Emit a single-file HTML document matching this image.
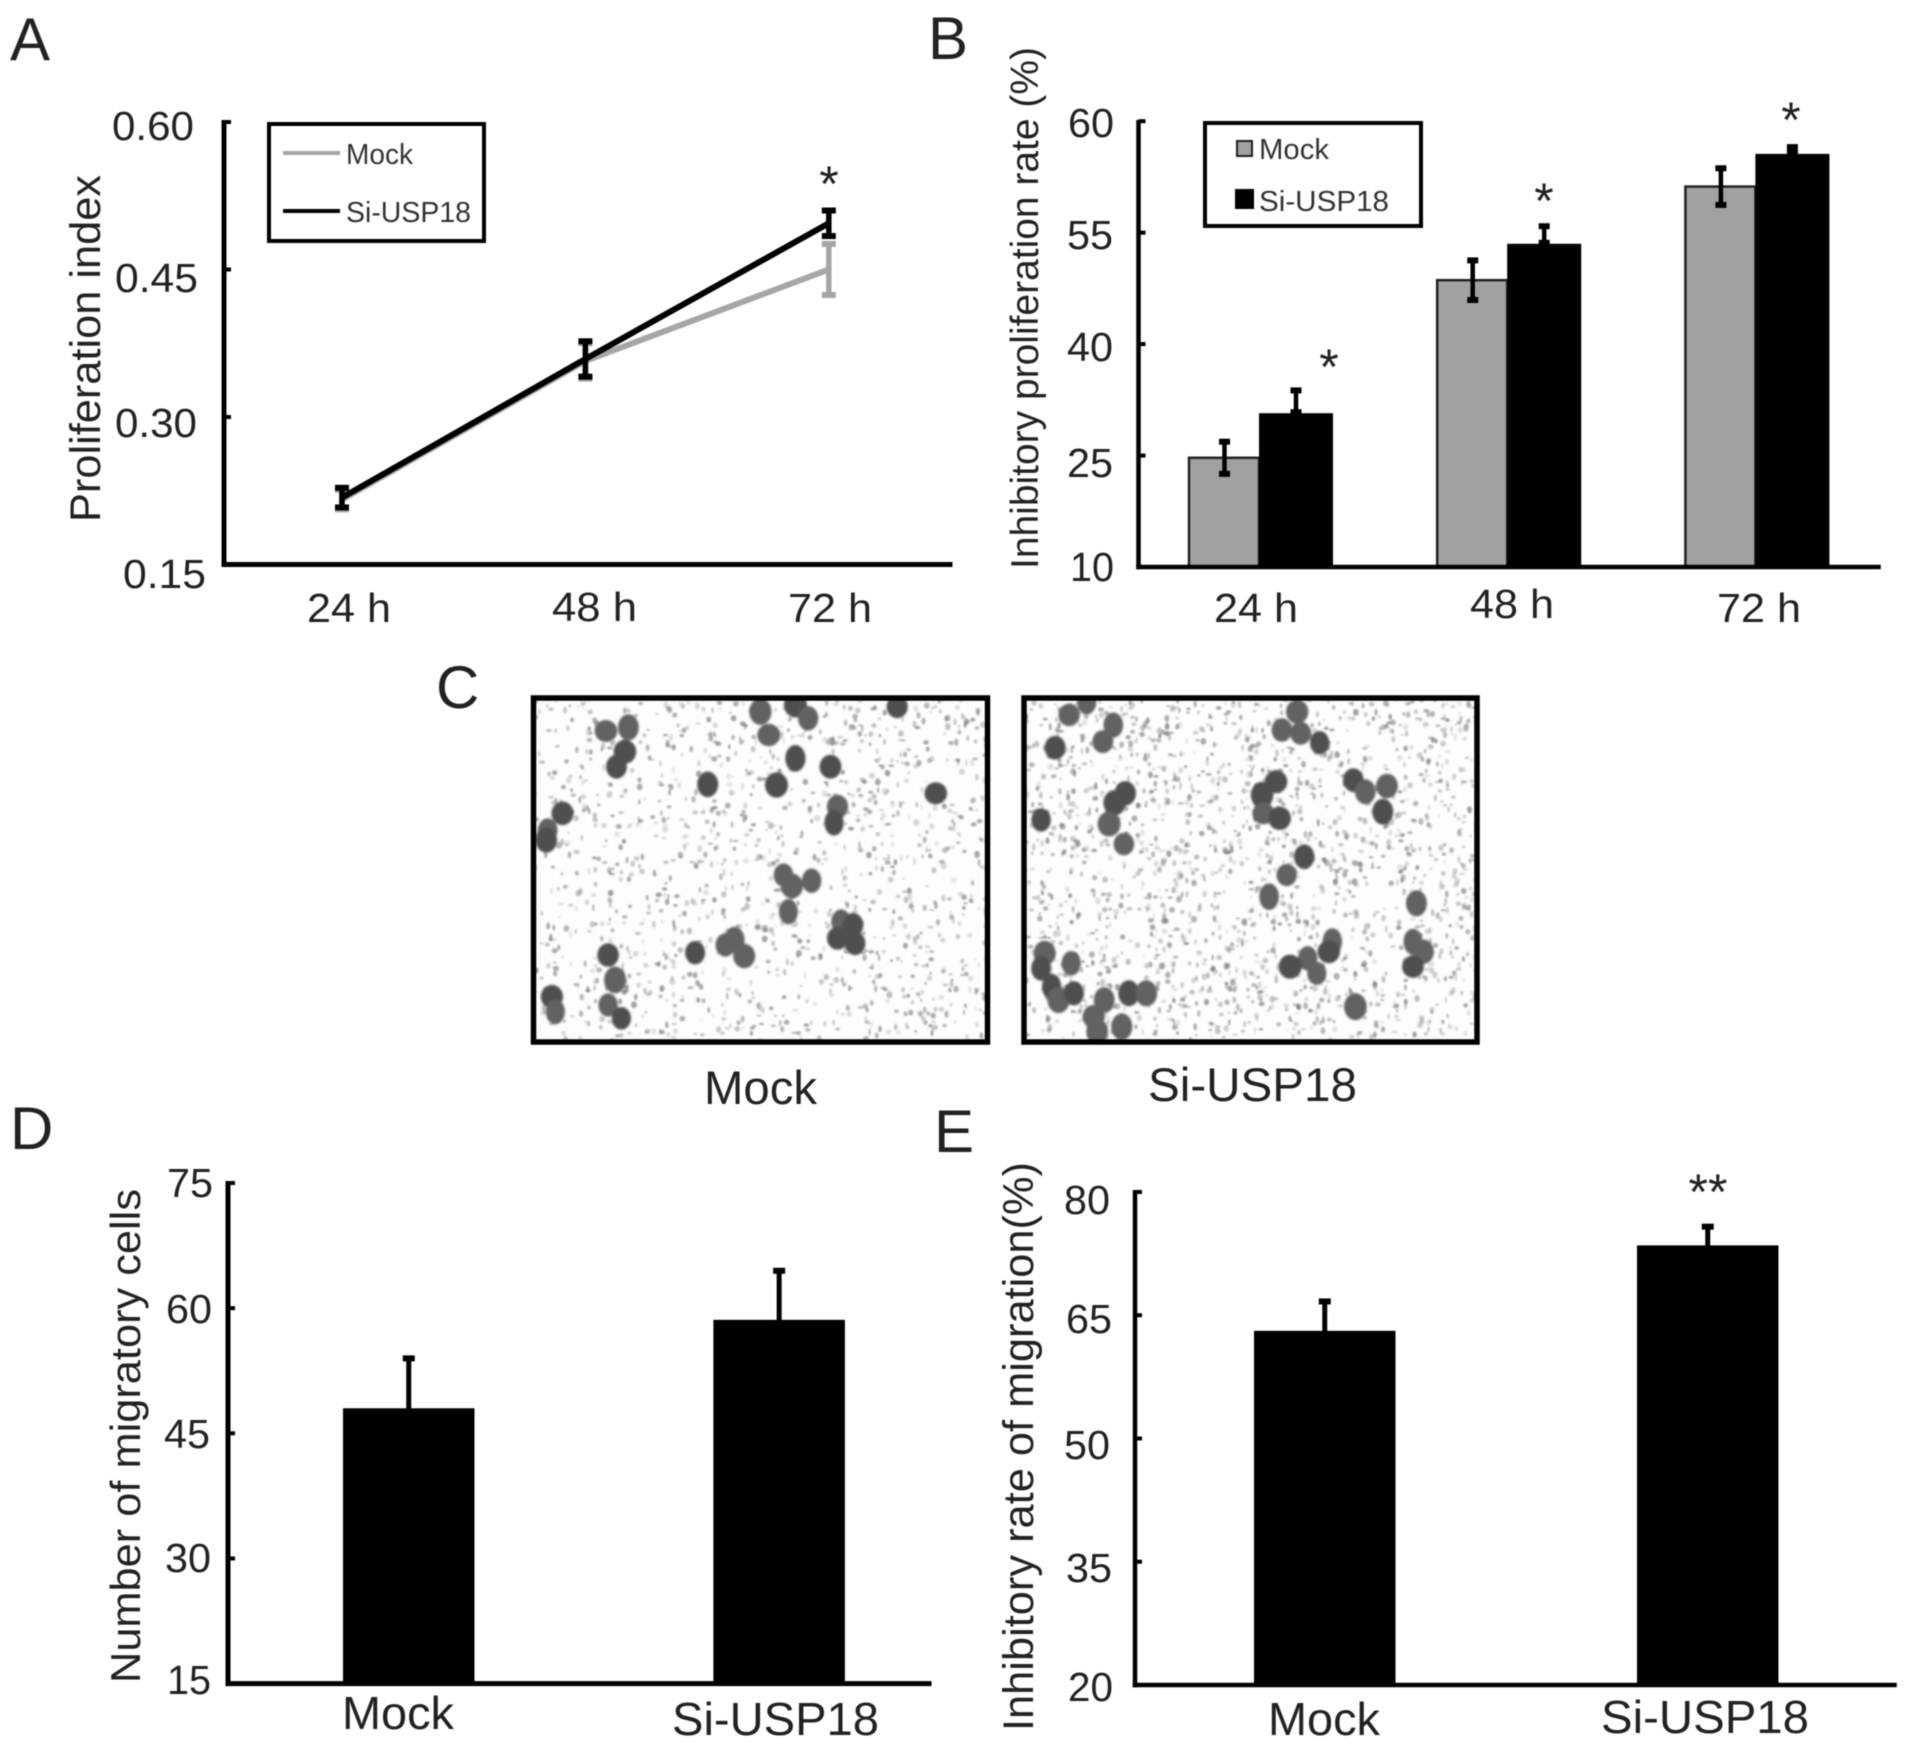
<!DOCTYPE html>
<html lang="en">
<head>
<meta charset="utf-8">
<title>USP18 proliferation and migration figure</title>
<style>
  html, body { margin: 0; padding: 0; background: #fff; }
  #stage { position: relative; width: 1913px; height: 1749px; overflow: hidden; background: #fff; }
  #figure { position: absolute; left: 0; top: 0; filter: blur(0.6px); }
  text { font-family: "Liberation Sans", Arial, sans-serif; fill: #222; }
  .tick { font-size: 41px; }
  .legend-text { font-size: 29px; fill: #333; }
  .panel-letter { font-size: 60px; }
  .star { font-size: 50px; text-anchor: middle; }
</style>
</head>
<body>
<div id="stage">
<svg id="figure" xmlns="http://www.w3.org/2000/svg" width="1913" height="1749" viewBox="0 0 1913 1749">
  <defs>
    <clipPath id="clip-mock"><rect x="531" y="698" width="456" height="342"/></clipPath>
    <clipPath id="clip-si"><rect x="1022" y="698" width="454" height="342"/></clipPath>
    <filter id="soft" x="-5%" y="-5%" width="110%" height="110%"><feGaussianBlur stdDeviation="1"/></filter>
    <filter id="softer" x="-2%" y="-2%" width="104%" height="104%"><feGaussianBlur stdDeviation="0.7"/></filter>
  </defs>

  <!-- Panel A -->
  <g id="panel-a">
    <text class="panel-letter" x="10" y="60">A</text>
    <text transform="translate(100,522) rotate(-90)" font-size="43" textLength="347" lengthAdjust="spacingAndGlyphs">Proliferation index</text>
    <text class="tick" x="112" y="140" textLength="82" lengthAdjust="spacingAndGlyphs">0.60</text>
    <text class="tick" x="115" y="292" textLength="83" lengthAdjust="spacingAndGlyphs">0.45</text>
    <text class="tick" x="115" y="437" textLength="82" lengthAdjust="spacingAndGlyphs">0.30</text>
    <text class="tick" x="123" y="588" textLength="83" lengthAdjust="spacingAndGlyphs">0.15</text>
    <text class="tick" x="307" y="622" textLength="84" lengthAdjust="spacingAndGlyphs">24 h</text>
    <text class="tick" x="552" y="621" textLength="85" lengthAdjust="spacingAndGlyphs">48 h</text>
    <text class="tick" x="788" y="622" textLength="84" lengthAdjust="spacingAndGlyphs">72 h</text>
    <g id="chart-a"></g>
    <text class="star" x="829" y="201">*</text>
    <g>
      <rect x="269" y="124" width="215" height="117" fill="#fff" stroke="#000" stroke-width="4"/>
      <line x1="283" x2="340" y1="153" y2="153" stroke="#a6a6a6" stroke-width="4"/>
      <text class="legend-text" x="346" y="164" textLength="67" lengthAdjust="spacingAndGlyphs">Mock</text>
      <line x1="283" x2="340" y1="211" y2="211" stroke="#000" stroke-width="4"/>
      <text class="legend-text" x="346" y="222" textLength="125" lengthAdjust="spacingAndGlyphs">Si-USP18</text>
    </g>
  </g>

  <!-- Panel B -->
  <g id="panel-b">
    <text class="panel-letter" x="928" y="59">B</text>
    <text transform="translate(1038,569) rotate(-90)" font-size="39" textLength="522" lengthAdjust="spacingAndGlyphs">Inhibitory proliferation rate (%)</text>
    <text class="tick" x="1068" y="137" textLength="46" lengthAdjust="spacingAndGlyphs">60</text>
    <text class="tick" x="1067" y="249" textLength="46" lengthAdjust="spacingAndGlyphs">55</text>
    <text class="tick" x="1067" y="361" textLength="46" lengthAdjust="spacingAndGlyphs">40</text>
    <text class="tick" x="1067" y="477" textLength="46" lengthAdjust="spacingAndGlyphs">25</text>
    <text class="tick" x="1070" y="581" textLength="44" lengthAdjust="spacingAndGlyphs">10</text>
    <text class="tick" x="1214" y="622" textLength="84" lengthAdjust="spacingAndGlyphs">24 h</text>
    <text class="tick" x="1470" y="618" textLength="84" lengthAdjust="spacingAndGlyphs">48 h</text>
    <text class="tick" x="1717" y="622" textLength="84" lengthAdjust="spacingAndGlyphs">72 h</text>
    <g id="chart-b"></g>
    <text class="star" x="1329" y="384">*</text>
    <text class="star" x="1544" y="218">*</text>
    <text class="star" x="1791" y="137">*</text>
    <g>
      <rect x="1205" y="123" width="216" height="103" fill="#fff" stroke="#000" stroke-width="4"/>
      <rect x="1237" y="141" width="15" height="15" fill="#a0a0a0" stroke="#222" stroke-width="2"/>
      <text class="legend-text" x="1259" y="159" textLength="70" lengthAdjust="spacingAndGlyphs">Mock</text>
      <rect x="1235" y="189" width="19" height="20" fill="#000"/>
      <text class="legend-text" x="1259" y="211" textLength="130" lengthAdjust="spacingAndGlyphs">Si-USP18</text>
    </g>
  </g>

  <!-- Panel C -->
  <g id="panel-c">
    <text class="panel-letter" x="436" y="708">C</text>
    <g id="micro-mock" clip-path="url(#clip-mock)"></g>
    <g id="micro-si" clip-path="url(#clip-si)"></g>
    <rect x="533.5" y="698" width="454" height="344" fill="none" stroke="#000" stroke-width="5.5"/>
    <rect x="1024" y="698" width="453" height="344" fill="none" stroke="#000" stroke-width="5.5"/>
    <text x="704" y="1104" font-size="47" textLength="113" lengthAdjust="spacingAndGlyphs">Mock</text>
    <text x="1148" y="1101" font-size="47" textLength="209" lengthAdjust="spacingAndGlyphs">Si-USP18</text>
  </g>

  <!-- Panel D -->
  <g id="panel-d">
    <text class="panel-letter" x="10" y="1149">D</text>
    <text transform="translate(140,1683) rotate(-90)" font-size="42" textLength="494" lengthAdjust="spacingAndGlyphs">Number of migratory cells</text>
    <text class="tick" x="167" y="1197" textLength="46" lengthAdjust="spacingAndGlyphs">75</text>
    <text class="tick" x="166" y="1323" textLength="46" lengthAdjust="spacingAndGlyphs">60</text>
    <text class="tick" x="164" y="1448" textLength="46" lengthAdjust="spacingAndGlyphs">45</text>
    <text class="tick" x="165" y="1572" textLength="46" lengthAdjust="spacingAndGlyphs">30</text>
    <text class="tick" x="167" y="1694" textLength="44" lengthAdjust="spacingAndGlyphs">15</text>
    <text x="342" y="1729" font-size="46" textLength="112" lengthAdjust="spacingAndGlyphs">Mock</text>
    <text x="672" y="1735" font-size="46" textLength="207" lengthAdjust="spacingAndGlyphs">Si-USP18</text>
    <g id="chart-d"></g>
  </g>

  <!-- Panel E -->
  <g id="panel-e">
    <text class="panel-letter" x="934" y="1152">E</text>
    <text transform="translate(1033,1731) rotate(-90)" font-size="43" textLength="569" lengthAdjust="spacingAndGlyphs">Inhibitory rate of migration(%)</text>
    <text class="tick" x="1064" y="1214" textLength="46" lengthAdjust="spacingAndGlyphs">80</text>
    <text class="tick" x="1066" y="1333" textLength="46" lengthAdjust="spacingAndGlyphs">65</text>
    <text class="tick" x="1064" y="1459" textLength="46" lengthAdjust="spacingAndGlyphs">50</text>
    <text class="tick" x="1066" y="1582" textLength="46" lengthAdjust="spacingAndGlyphs">35</text>
    <text class="tick" x="1068" y="1701" textLength="45" lengthAdjust="spacingAndGlyphs">20</text>
    <text x="1268" y="1735" font-size="46" textLength="112" lengthAdjust="spacingAndGlyphs">Mock</text>
    <text x="1601" y="1733" font-size="46" textLength="208" lengthAdjust="spacingAndGlyphs">Si-USP18</text>
    <g id="chart-e"></g>
    <text x="1708" y="1209" font-size="50" text-anchor="middle">**</text>
  </g>
</svg>
</div>

<script>
// Panel A: line chart
const aCategories = ['24 h', '48 h', '72 h'];
const aTicks = [0.15, 0.30, 0.45, 0.60];
const aMock = [0.216, 0.357, 0.450];
const aMockErr = [0.011, 0.019, 0.027];
const aSi = [0.218, 0.359, 0.497];
const aSiErr = [0.011, 0.019, 0.014];

// Panel B: grouped bars (the topmost axis tick is printed "60" in the source figure)
const bCategories = ['24 h', '48 h', '72 h'];
const bTicks = [10, 25, 40, 55, 70];
const bMock = [24.7, 48.6, 61.2];
const bMockErr = [2.3, 2.8, 2.6];
const bSi = [30.7, 53.5, 65.6];
const bSiErr = [3.2, 2.5, 1.05];

// Panel D: bars
const dCategories = ['Mock', 'Si-USP18'];
const dTicks = [15, 30, 45, 60, 75];
const dValues = [48.0, 58.6];
const dErr = [6.1, 6.0];

// Panel E: bars
const eCategories = ['Mock', 'Si-USP18'];
const eTicks = [20, 35, 50, 65, 80];
const eValues = [63.1, 73.5];
const eErr = [3.7, 2.4];

const NS = 'http://www.w3.org/2000/svg';

function make(tag, name, parent) {
  const el = document.createElementNS(NS, tag);
  
  
  parent.appendChild(el);
  return el;
}
function rect(name, parent, x, y, w, h, fill, stroke, sw) {
  const el = make('rect', name, parent);
  el.setAttribute('x', x);
  el.setAttribute('y', y);
  el.setAttribute('width', w);
  el.setAttribute('height', h);
  el.setAttribute('fill', fill);
  if (stroke) {
    el.setAttribute('stroke', stroke);
    el.setAttribute('stroke-width', sw);
  }
  return el;
}
function axes(key, parent, ticks, yScale, x0, x1, top, bottom, thick) {
  rect('y-axis-' + key, parent, x0 - thick / 2, top, thick, bottom - top + thick / 2, '#000');
  rect('x-axis-' + key, parent, x0 - thick / 2, bottom - thick / 2, x1 - x0, thick, '#000');
  ticks.forEach(function (t) {
    rect('y-tick-' + key + '-' + t, parent, x0, yScale(t) - 2, 7, 4, '#000');
  });
}
function errorBar(name, parent, cx, yTop, yBottom, color, capW, thick) {
  rect(name + '-stem', parent, cx - thick / 2, yTop, thick, yBottom - yTop, color);
  rect(name + '-cap-top', parent, cx - capW / 2, yTop - 2, capW, 6, color);
  rect(name + '-cap-bottom', parent, cx - capW / 2, yBottom - 4, capW, 6, color);
}

/* ---------- Panel A ---------- */
(function () {
  const g = document.getElementById('chart-a');
  const x = function (i) { return 342 + i * 243.4; };
  const y = function (v) { return 564.5 - (v - 0.15) / 0.45 * 442.5; };
  axes('a', g, aTicks, y, 224, 955, 120, 564.5, 5);
  function series(key, vals, errs, color) {
    const line = make('polyline', 'line-' + key, g);
    line.setAttribute('points', vals.map(function (v, i) { return x(i) + ',' + y(v); }).join(' '));
    line.setAttribute('fill', 'none');
    line.setAttribute('stroke', color);
    line.setAttribute('stroke-width', '6');
    vals.forEach(function (v, i) {
      errorBar('error-bar-' + key + '-' + aCategories[i].replace(' ', ''), g, x(i), y(v + errs[i]), y(v - errs[i]), color, 14, 5.5);
    });
  }
  series('mock', aMock, aMockErr, '#a6a6a6');
  series('si-usp18', aSi, aSiErr, '#000');
})();

/* ---------- Panel B ---------- */
(function () {
  const g = document.getElementById('chart-b');
  const group = function (i) { return 1188 + i * 248.2; };
  const y = function (v) { return 567 - (v - 10) * 7.43; };
  const base = y(10);
  const gw = 71, bw = 74;
  bCategories.forEach(function (c, i) {
    const key = c.replace(' ', '');
    const gx = group(i);
    rect('bar-mock-' + key, g, gx + 1, y(bMock[i]), gw - 1, base - y(bMock[i]), '#a0a0a0', '#222', 2.5);
    rect('bar-si-usp18-' + key, g, gx + gw, y(bSi[i]), bw, base - y(bSi[i]), '#000');
    errorBar('error-bar-mock-' + key, g, gx + gw / 2 + 1, y(bMock[i] + bMockErr[i]), y(bMock[i] - bMockErr[i]), '#000', 11, 4.5);
    errorBar('error-bar-si-usp18-' + key, g, gx + gw + bw / 2, y(bSi[i] + bSiErr[i]), y(bSi[i]), '#000', 11, 4.5);
  });
  axes('b', g, bTicks, y, 1138.5, 1883, 120, 567, 4.5);
})();

/* ---------- Panels D and E ---------- */
function simpleBars(gid, key, cats, ticks, vals, errs, y, x, w, x0, x1, top, bottom, thick) {
  const g = document.getElementById(gid);
  cats.forEach(function (c, i) {
    const name = c.toLowerCase();
    rect('bar-' + key + '-' + name, g, x(i), y(vals[i]), w, bottom - y(vals[i]), '#000');
    const cx = x(i) + w / 2;
    const yt = y(vals[i] + errs[i]);
    rect('error-bar-' + key + '-' + name, g, cx - 2.5, yt, 5, y(vals[i]) - yt + 2, '#000');
    rect('error-cap-' + key + '-' + name, g, cx - 6, yt - 2, 12, 6, '#000');
  });
  axes(key, g, ticks, y, x0, x1, top, bottom, thick);
}
simpleBars('chart-d', 'd', dCategories, dTicks, dValues, dErr,
  function (v) { return 1683.6 - (v - 15) * 8.343; },
  function (i) { return 343 + i * 370.4; }, 131.5, 228, 934, 1181, 1683.6, 5);
simpleBars('chart-e', 'e', eCategories, eTicks, eValues, eErr,
  function (v) { return 1685 - (v - 20) * 8.217; },
  function (i) { return 1254 + i * 383; }, 141.5, 1135, 1899, 1190, 1685, 4.5);

/* ---------- Panel C micrographs (image texture, not chart data) ---------- */
const cellsMock = [[265,243],[297,232],[292,305],[280,350],[485,185],[535,165],[553,205],[497,255],[535,325],[585,350],[508,405],[410,403],[735,430],[595,470],[590,518],[203,490],[182,540],[180,570],[518,675],[558,692],[530,708],[525,785],[600,815],[617,825],[595,865],[620,880],[448,870],[435,885],[462,918],[268,915],[278,990],[268,1065],[287,1105],[188,1040],[193,1085],[680,170],[392,908]];
const cellsSi = [[925,195],[988,225],[905,293],[973,275],[1250,185],[1228,240],[1255,250],[1282,278],[1220,395],[1200,435],[1330,390],[1347,425],[1378,408],[1372,485],[1202,490],[1225,505],[1005,430],[990,458],[982,522],[1003,582],[885,510],[1260,620],[1235,675],[1210,740],[1420,760],[1300,875],[1295,905],[1265,925],[1240,950],[1278,970],[1415,875],[1430,905],[1415,950],[890,910],[885,955],[928,940],[900,1010],[910,1050],[932,1030],[975,1050],[960,1100],[965,1145],[1000,1130],[1010,1030],[1035,1030],[1333,1070],[950,155]];

(function () {
  let seed = 20231;
  function rnd() {
    seed = (seed * 16807) % 2147483647;
    return seed / 2147483647;
  }
  function micro(id, x0, y0, w, h, cells, count, key) {
    const holder = document.getElementById(id);
    rect('micrograph-background-' + key, holder, x0, y0, w, h, '#fdfdfd');
    const speck = make('g', 'background-speckles-' + key, holder);
    speck.setAttribute('filter', 'url(#softer)');
    for (let i = 0; i < count; i++) {
      const e = make('ellipse', 'speckle', speck);
      e.setAttribute('cx', (x0 + rnd() * w).toFixed(1));
      e.setAttribute('cy', (y0 + rnd() * h).toFixed(1));
      e.setAttribute('rx', (1 + rnd() * 2).toFixed(1));
      e.setAttribute('ry', (1 + rnd() * 2.6).toFixed(1));
      e.setAttribute('fill', '#707070');
      e.setAttribute('opacity', (0.15 + rnd() * 0.5).toFixed(2));
    }
    const blobs = make('g', 'stained-cells-' + key, holder);
    blobs.setAttribute('filter', 'url(#soft)');
    cells.forEach(function (c) {
      const e = make('ellipse', 'stained-cell', blobs);
      e.setAttribute('cx', (420 + c[0] / 1.425).toFixed(1));
      e.setAttribute('cy', (650 + c[1] / 3).toFixed(1));
      e.setAttribute('rx', (9.5 + rnd() * 2).toFixed(1));
      e.setAttribute('ry', (11 + rnd() * 2.5).toFixed(1));
      e.setAttribute('fill', rnd() > 0.5 ? '#505050' : '#626262');
    });
  }
  micro('micro-mock', 531, 698, 456, 342, cellsMock, 1300, 'mock');
  micro('micro-si', 1022, 698, 454, 342, cellsSi, 1800, 'si-usp18');
})();
</script>
</body>
</html>
